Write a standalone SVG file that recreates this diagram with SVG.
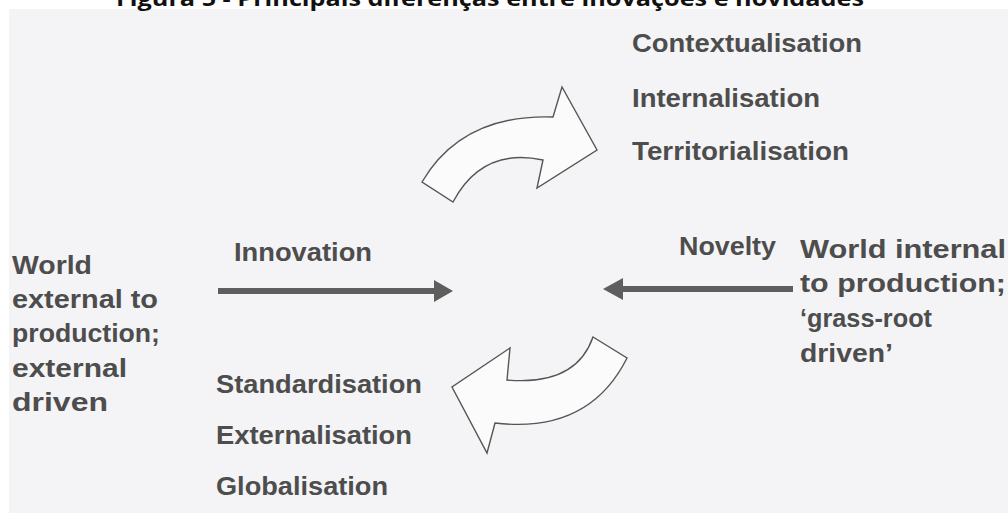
<svg xmlns="http://www.w3.org/2000/svg" width="1008" height="513" viewBox="0 0 1008 513">
<style>
.lbl{font-family:"Liberation Sans",Arial,sans-serif;font-weight:bold;font-size:25px;fill:#4d4d4d}
.title{font-family:"Open Sans","Noto Sans",sans-serif;font-weight:bold;font-size:22px;fill:#111}
.curve{fill:#fbfbfc;stroke:#555;stroke-width:1.4;stroke-linejoin:miter}
.shaft{fill:#5e5e5e}
</style>
<rect x="0" y="0" width="1008" height="513" fill="#ffffff"/>
<rect x="9" y="9" width="999" height="504" fill="#f4f4f6"/>
<text class="title" x="116" y="6" textLength="748" lengthAdjust="spacingAndGlyphs">Figura 5 - Principais diferenças entre inovações e novidades</text>

<g id="top-terms">
<text class="lbl" x="632" y="52" textLength="230" lengthAdjust="spacingAndGlyphs">Contextualisation</text>
<text class="lbl" x="632" y="107" textLength="188" lengthAdjust="spacingAndGlyphs">Internalisation</text>
<text class="lbl" x="632" y="160" textLength="217" lengthAdjust="spacingAndGlyphs">Territorialisation</text>
</g>
<g id="bottom-terms">
<text class="lbl" x="216" y="393" textLength="206" lengthAdjust="spacingAndGlyphs">Standardisation</text>
<text class="lbl" x="216" y="444" textLength="196" lengthAdjust="spacingAndGlyphs">Externalisation</text>
<text class="lbl" x="216" y="495" textLength="172" lengthAdjust="spacingAndGlyphs">Globalisation</text>
</g>
<g id="innovation">
<text class="lbl" x="234" y="261" textLength="138" lengthAdjust="spacingAndGlyphs">Innovation</text>
</g>
<g id="novelty">
<text class="lbl" x="679" y="255" textLength="97" lengthAdjust="spacingAndGlyphs">Novelty</text>
</g>
<g id="world-external">
<text class="lbl" x="12" y="274" textLength="80" lengthAdjust="spacingAndGlyphs">World</text>
<text class="lbl" x="12" y="308" textLength="146" lengthAdjust="spacingAndGlyphs">external to</text>
<text class="lbl" x="12" y="342" textLength="148" lengthAdjust="spacingAndGlyphs">production;</text>
<text class="lbl" x="12" y="377" textLength="115" lengthAdjust="spacingAndGlyphs">external</text>
<text class="lbl" x="12" y="411" textLength="96" lengthAdjust="spacingAndGlyphs">driven</text>
</g>
<g id="world-internal">
<text class="lbl" x="800" y="258" textLength="206" lengthAdjust="spacingAndGlyphs">World internal</text>
<text class="lbl" x="800" y="292" textLength="206" lengthAdjust="spacingAndGlyphs">to production;</text>
<text class="lbl" x="800" y="327" textLength="132" lengthAdjust="spacingAndGlyphs">‘grass-root</text>
<text class="lbl" x="800" y="362" textLength="93" lengthAdjust="spacingAndGlyphs">driven’</text>
</g>

<g id="connectors">
<path class="curve" d="M422,182 Q462,114 553,117 L562,87 L597,150 L537,188 L543,160 Q482,147 453,202 Z"/>
<path class="curve" d="M593,337 L627,358 Q589,434 495,423 L487,453 L452,387 L510,348 L507,380 Q576,386 593,337 Z"/>
<rect class="shaft" x="218" y="288" width="217" height="6"/>
<polygon class="shaft" points="434,280 453,291 434,302"/>
<rect class="shaft" x="622" y="286" width="171" height="6"/>
<polygon class="shaft" points="623,278 603,289 623,300"/>
</g>
</svg>
